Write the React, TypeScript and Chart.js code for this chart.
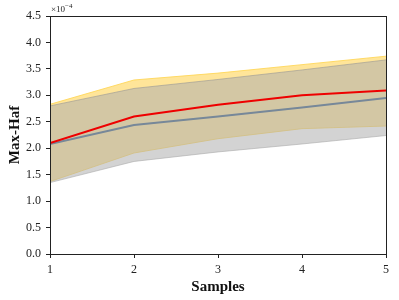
import React, { useEffect, useRef } from "react";
import { Chart, registerables } from "chart.js";

Chart.register(...registerables);

const samples = [1, 2, 3, 4, 5];
const redMean = [2.1, 2.6, 2.82, 3.0, 3.09];
const redUpper = [2.83, 3.29, 3.42, 3.58, 3.74];
const redLower = [1.37, 1.91, 2.18, 2.37, 2.42];
const grayMean = [2.08, 2.44, 2.6, 2.77, 2.95];
const grayUpper = [2.8, 3.13, 3.3, 3.48, 3.67];
const grayLower = [1.35, 1.75, 1.93, 2.08, 2.24];
const yTicks = [0, 0.5, 1, 1.5, 2, 2.5, 3, 3.5, 4, 4.5];

const FONT = "'Liberation Serif', 'DejaVu Serif', serif";

const pts = (ys: number[]) => samples.map((x, i) => ({ x, y: ys[i] }));

export default function App() {
  const ref = useRef<HTMLCanvasElement | null>(null);
  useEffect(() => {
    document.body.style.margin = "0";
    if (!ref.current) return;
    const framePlugin = {
      id: "frame",
      afterDraw(chart: any) {
        const { ctx, chartArea } = chart;
        ctx.save();
        ctx.strokeStyle = "#222";
        ctx.lineWidth = 1;
        ctx.strokeRect(
          Math.round(chartArea.left) + 0.5,
          Math.round(chartArea.top) + 0.5,
          Math.round(chartArea.right - chartArea.left),
          Math.round(chartArea.bottom - chartArea.top)
        );
        ctx.fillStyle = "#222";
        ctx.font = `9px ${FONT}`;
        ctx.textBaseline = "alphabetic";
        ctx.textAlign = "left";
        ctx.fillText("×10", chartArea.left + 1, chartArea.top - 4);
        const w = ctx.measureText("×10").width;
        ctx.font = `7px ${FONT}`;
        ctx.fillText("−4", chartArea.left + 1 + w, chartArea.top - 8);
        ctx.restore();
      },
    };
    const chart = new Chart(ref.current, {
      type: "line",
      data: {
        datasets: [
          {
            data: pts(redUpper),
            borderColor: "rgba(255, 215, 90, 0.9)",
            borderWidth: 1,
            backgroundColor: "rgba(255, 204, 51, 0.5)",
            fill: "+1",
            pointRadius: 0,
            order: 6,
          },
          {
            data: pts(redLower),
            borderColor: "rgba(255, 215, 90, 0.9)",
            borderWidth: 1,
            fill: false,
            pointRadius: 0,
            order: 5,
          },
          {
            data: pts(grayUpper),
            borderColor: "rgba(150, 150, 150, 0.6)",
            borderWidth: 1,
            backgroundColor: "rgba(175, 175, 175, 0.55)",
            fill: "+1",
            pointRadius: 0,
            order: 4,
          },
          {
            data: pts(grayLower),
            borderColor: "rgba(170, 170, 170, 0.6)",
            borderWidth: 1,
            fill: false,
            pointRadius: 0,
            order: 3,
          },
          {
            data: pts(grayMean),
            borderColor: "#778899",
            borderWidth: 2,
            fill: false,
            pointRadius: 0,
            order: 2,
          },
          {
            data: pts(redMean),
            borderColor: "#ee0000",
            borderWidth: 2,
            fill: false,
            pointRadius: 0,
            order: 1,
          },
        ],
      },
      options: {
        responsive: false,
        animation: false,
        events: [],
        layout: { padding: { top: 16, right: 13, left: 0, bottom: 0 } },
        plugins: { legend: { display: false }, tooltip: { enabled: false } },
        scales: {
          x: {
            type: "linear",
            min: 1,
            max: 5,
            afterBuildTicks: (s: any) => {
              s.ticks = samples.map((v) => ({ value: v }));
            },
            afterFit: (s: any) => {
              s.height = 46;
            },
            grid: {
              drawOnChartArea: false,
              drawTicks: true,
              tickLength: 4,
              color: "#222",
            },
            border: { display: true, color: "#222", width: 1 },
            ticks: {
              color: "#222",
              font: { family: FONT, size: 12 },
              padding: 5,
              maxRotation: 0,
              callback: (v: any) => String(v),
            },
            title: {
              display: true,
              text: "Samples",
              color: "#111",
              font: { family: FONT, size: 15, weight: "bold" },
              padding: { top: 0, bottom: 4 },
            },
          },
          y: {
            type: "linear",
            min: 0,
            max: 4.5,
            afterBuildTicks: (s: any) => {
              s.ticks = yTicks.map((v) => ({ value: v }));
            },
            afterFit: (s: any) => {
              s.width = 50;
            },
            grid: {
              drawOnChartArea: false,
              drawTicks: true,
              tickLength: 4,
              color: "#222",
            },
            border: { display: true, color: "#222", width: 1 },
            ticks: {
              color: "#222",
              font: { family: FONT, size: 12 },
              padding: 5,
              callback: (v: any) => Number(v).toFixed(1),
            },
            title: {
              display: true,
              text: "Max-Haf",
              color: "#111",
              font: { family: FONT, size: 15, weight: "bold" },
              padding: { top: 6, bottom: 0 },
            },
          },
        },
      },
      plugins: [framePlugin],
    } as any);
    return () => chart.destroy();
  }, []);
  return (
    <div style={{ width: 399, height: 300 }}>
      <canvas ref={ref} width={399} height={300} />
    </div>
  );
}
